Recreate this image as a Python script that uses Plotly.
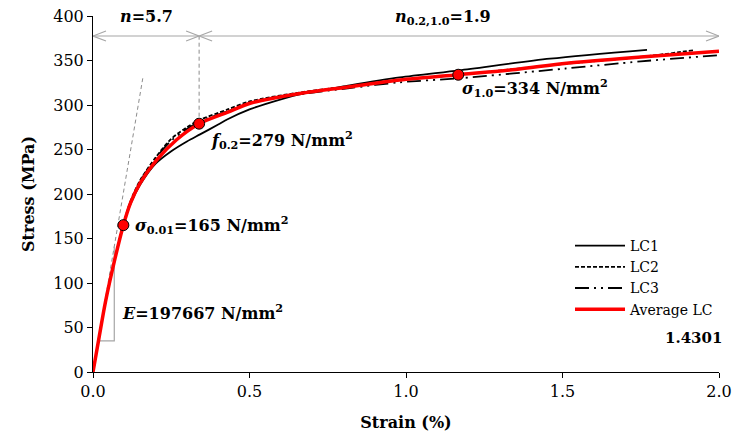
import plotly.graph_objects as go

# ---------------- data ----------------
avg_strain = [0, 0.02, 0.04, 0.07, 0.097, 0.12, 0.15, 0.203, 0.267, 0.339, 0.431, 0.502, 0.661, 0.821, 0.98, 1.167, 1.35, 1.513, 1.75, 2.0]
avg_stress = [0, 40, 79, 127, 165, 190, 212, 238, 261, 279, 292, 302, 313, 320.6, 328, 334, 340, 347, 354, 360.5]

lc1_strain = [0, 0.02, 0.04, 0.07, 0.097, 0.12, 0.15, 0.2, 0.25, 0.3, 0.342, 0.4, 0.43, 0.5, 0.55, 0.66, 0.82, 0.98, 1.17, 1.46, 1.77]
lc1_stress = [0, 40, 79, 127, 165, 189, 210, 234, 248, 259, 267, 278, 284, 295, 301, 312, 322, 331, 339, 352, 362]

lc2_strain = [0, 0.02, 0.04, 0.07, 0.097, 0.12, 0.15, 0.2, 0.25, 0.3, 0.34, 0.43, 0.5, 0.66, 0.82, 0.98, 1.17, 1.5, 1.75, 1.92]
lc2_stress = [0, 40, 79, 127, 166, 192, 215, 241, 262, 275, 283, 295, 304, 314, 321, 328, 334, 346, 354, 361.5]

lc3_strain = [0, 0.02, 0.04, 0.07, 0.097, 0.12, 0.15, 0.2, 0.25, 0.3, 0.34, 0.43, 0.5, 0.66, 0.82, 0.98, 1.17, 1.51, 1.75, 2.0]
lc3_stress = [0, 40, 79, 127, 166, 191, 214, 240, 260, 273, 281, 293, 302, 312, 319, 325.5, 330, 341, 349, 356]

key_strain = [0.097, 0.339, 1.167]
key_stress = [165, 279, 334]
key_labels = ["<b><i>σ</i><sub>0.01</sub>=165 N/mm<sup>2</sup></b>",
              "<b><i>f</i><sub>0.2</sub>=279 N/mm<sup>2</sup></b>",
              "<b><i>σ</i><sub>1.0</sub>=334 N/mm<sup>2</sup></b>"]

tangent_strain = [0, 0.159]
tangent_stress = [0, 330]
tri_stress_low = 35
tri_strain_right = 0.068

arrow_stress = 377.5
n_label = "<b><i>n</i>=5.7</b>"
n2_label = "<b><i>n</i><sub>0.2,1.0</sub>=1.9</b>"
E_label = "<b><i>E</i>=197667 N/mm<sup>2</sup></b>"
grade_label = "<b>1.4301</b>"

x_range = [0, 2.0]
y_range = [0, 400]
x_ticks = [0, 0.5, 1.0, 1.5, 2.0]
x_ticklabels = ["0.0", "0.5", "1.0", "1.5", "2.0"]
y_ticks = [0, 50, 100, 150, 200, 250, 300, 350, 400]

# ---------------- layout geometry ----------------
W, H = 732, 436
ML, MR, MT, MB = 93, 13, 16, 64
px_x = (W - ML - MR) / (x_range[1] - x_range[0])
px_y = (H - MT - MB) / (y_range[1] - y_range[0])

FONT = "DejaVu Serif"
GRAY = "#a6a6a6"

fig = go.Figure()

# tangent (E) line
fig.add_trace(go.Scatter(x=tangent_strain, y=tangent_stress, mode="lines",
                         line=dict(color="#8c8c8c", width=1, dash="4px,3px"),
                         showlegend=False, hoverinfo="skip"))
# slope triangle
slope = tangent_stress[1] / tangent_strain[1]
tri_x = [tri_stress_low / slope, tri_strain_right, tri_strain_right]
tri_y = [tri_stress_low, tri_stress_low, tri_strain_right * slope]
fig.add_trace(go.Scatter(x=tri_x, y=tri_y, mode="lines",
                         line=dict(color=GRAY, width=1.2),
                         showlegend=False, hoverinfo="skip"))

# curves
fig.add_trace(go.Scatter(x=lc1_strain, y=lc1_stress, mode="lines", name="LC1",
                         line=dict(color="black", width=1.8, shape="spline", smoothing=0.8)))
fig.add_trace(go.Scatter(x=lc2_strain, y=lc2_stress, mode="lines", name="LC2",
                         line=dict(color="black", width=1.8, dash="4px,2px", shape="spline", smoothing=0.8)))
fig.add_trace(go.Scatter(x=lc3_strain, y=lc3_stress, mode="lines", name="LC3",
                         line=dict(color="black", width=1.8, dash="14px,5px,2px,5px,2px,5px",
                                   shape="spline", smoothing=0.8)))
fig.add_trace(go.Scatter(x=avg_strain, y=avg_stress, mode="lines", name="Average LC",
                         line=dict(color="#ff0000", width=3.5, shape="spline", smoothing=0.8)))

# vertical dashed line from f0.2 to arrow
fig.add_trace(go.Scatter(x=[key_strain[1], key_strain[1]], y=[key_stress[1], arrow_stress],
                         mode="lines", line=dict(color="#8c8c8c", width=1, dash="4px,3px"),
                         showlegend=False, hoverinfo="skip"))

# dimension arrows
def varrow(x0, x1, y):
    hx = 13 / px_x
    hy = 5 / px_y
    xs = [x0, x1, None]
    ys = [y, y, None]
    xs += [x0 + hx, x0, x0 + hx, None]
    ys += [y + hy, y, y - hy, None]
    xs += [x1 - hx, x1, x1 - hx, None]
    ys += [y + hy, y, y - hy, None]
    return xs, ys

for a, b in [(x_range[0], key_strain[1]), (key_strain[1], x_range[1])]:
    xs, ys = varrow(a, b, arrow_stress)
    fig.add_trace(go.Scatter(x=xs, y=ys, mode="lines", line=dict(color=GRAY, width=1.2),
                             showlegend=False, hoverinfo="skip", cliponaxis=False))

# markers
fig.add_trace(go.Scatter(x=key_strain, y=key_stress, mode="markers",
                         marker=dict(color="#ff0000", size=11, line=dict(color="black", width=1)),
                         showlegend=False, hoverinfo="skip"))

ann_font = dict(family=FONT, size=16, color="black")
offsets = [(10, 0), (10, -16), (2, -13)]
for (xv, yv, t, (dx, dy)) in zip(key_strain, key_stress, key_labels, offsets):
    fig.add_annotation(x=xv, y=yv, text=t, showarrow=False, xanchor="left", yanchor="middle",
                       xshift=dx, yshift=dy, font=ann_font)
fig.add_annotation(x=tri_strain_right, y=(tri_stress_low + tri_strain_right * slope) / 2,
                   text=E_label, showarrow=False, xanchor="left", yanchor="middle",
                   xshift=6, yshift=-18, font=ann_font)
fig.add_annotation(x=(x_range[0] + key_strain[1]) / 2, y=arrow_stress, text=n_label, showarrow=False,
                   yanchor="bottom", yshift=8, font=ann_font)
fig.add_annotation(x=(key_strain[1] + x_range[1]) / 2, y=arrow_stress, text=n2_label, showarrow=False,
                   yanchor="bottom", yshift=6, xshift=-16, font=ann_font)
fig.add_annotation(xref="paper", yref="paper", x=1.0, y=(H - MB - 338) / (H - MT - MB),
                   text=grade_label, showarrow=False, xanchor="right", yanchor="middle",
                   xshift=5, font=dict(family=FONT, size=15, color="black"))

fig.update_layout(
    width=W, height=H,
    margin=dict(l=ML, r=MR, t=MT, b=MB, autoexpand=False),
    paper_bgcolor="white", plot_bgcolor="white",
    font=dict(family=FONT, size=16, color="black"),
    legend=dict(x=(575 - ML - 5) / (W - ML - MR), y=(H - MB - 230) / (H - MT - MB),
                xanchor="left", yanchor="top",
                bgcolor="rgba(0,0,0,0)", font=dict(family=FONT, size=14, color="black"),
                tracegroupgap=0, itemwidth=50),
    xaxis=dict(range=x_range, tickvals=x_ticks, ticktext=x_ticklabels, showgrid=False,
               zeroline=False, showline=True, linecolor="black", linewidth=1,
               ticks="outside", ticklen=5, tickcolor="black", automargin=False,
               title=dict(text="<b>Strain (%)</b>", font=dict(size=16), standoff=16)),
    yaxis=dict(range=y_range, tickvals=y_ticks, showgrid=False, zeroline=False,
               showline=True, linecolor="black", linewidth=1,
               ticks="outside", ticklen=5, tickcolor="black", automargin=False,
               title=dict(text="<b>Stress (MPa)</b>", font=dict(size=16), standoff=14)),
)

fig.write_html("out.html")
